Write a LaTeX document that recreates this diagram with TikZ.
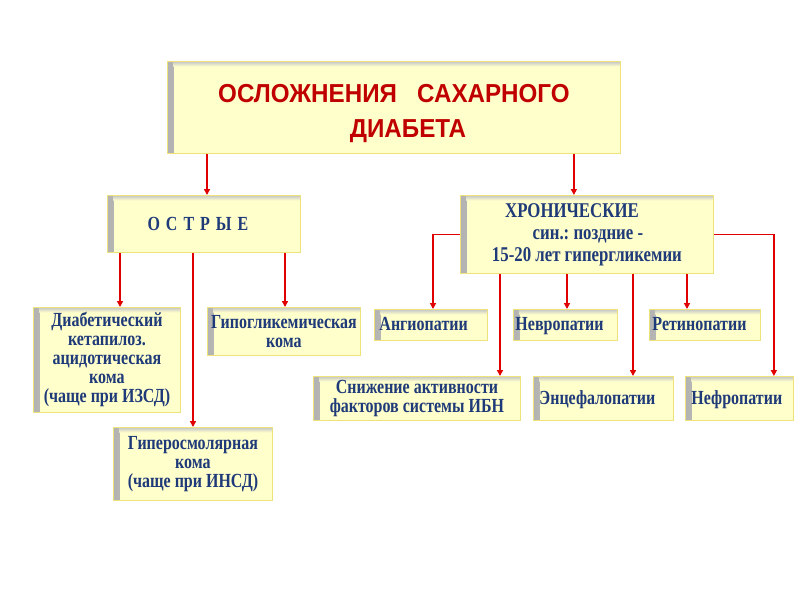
\documentclass[tikz,border=0pt]{standalone}
\usepackage{fontspec}
\setmainfont[FakeStretch=0.8]{Liberation Serif}
\newfontfamily\titlefont[FakeStretch=0.93]{Liberation Sans}
\usetikzlibrary{arrows.meta,calc}
\definecolor{boxfill}{HTML}{FFFFCC}
\definecolor{boxline}{HTML}{EEE27A}
\definecolor{txtblue}{HTML}{1F3A78}
\definecolor{titlered}{HTML}{C00000}
\definecolor{arrred}{HTML}{E00000}
\tikzset{
  ybox/.style={draw=boxline, line width=0.9pt, fill=boxfill, inner sep=3pt,
    text=txtblue, font=\bfseries\fontsize{20}{19}\selectfont, anchor=north west,
    path picture={
      \shade[left color=black!30, right color=boxfill]
        (path picture bounding box.north west) rectangle ([xshift=6pt]path picture bounding box.south west);
      \shade[top color=black!22, bottom color=boxfill]
        ([xshift=6pt]path picture bounding box.north west) rectangle ([yshift=-5pt]path picture bounding box.north east);
    }},
  oneline/.style={text height=16pt, text depth=4pt},
  conn/.style={draw=arrred, line width=1.8pt, -{Triangle[length=6pt,width=6pt]}},
}
\begin{document}
\frenchspacing
\begin{tikzpicture}[x=1pt,y=-1pt]
\useasboundingbox (0,0) rectangle (800,600);
\fill[white] (0,0) rectangle (800,600);
% boxes
\node[ybox, minimum width=453pt, minimum height=92pt, align=center, text=titlered,
  font=\titlefont\bfseries\fontsize{26}{35}\selectfont] (title) at (167,61)
  {\rule{0pt}{30pt}ОСЛОЖНЕНИЯ\ \ \ САХАРНОГО\\\hspace*{28pt}ДИАБЕТА};
\node[ybox, minimum width=193pt, minimum height=57pt, align=center] (ostr) at (107,195)
  {\hspace*{-12pt}О\hspace{2pt} С\hspace{2pt} Т\hspace{2pt} Р\hspace{2pt} Ы\hspace{2pt} Е};
\node[ybox, minimum width=253pt, minimum height=78pt, align=center,
  font=\bfseries\fontsize{21}{22}\selectfont] (chron) at (460,195)
  {\hspace*{-30pt}ХРОНИЧЕСКИЕ\\\hspace*{2pt}син.: поздние -\\15-20 лет гипергликемии};
\node[ybox, minimum width=147pt, minimum height=105pt, align=center] (diab) at (33,307)
  {Диабетический\\кетапилоз.\\ацидотическая\\кома\\(чаще при ИЗСД)};
\node[ybox, minimum width=153pt, minimum height=48pt, align=center] (hypo) at (207,307)
  {Гипогликемическая\\кома};
\node[ybox, minimum width=159pt, minimum height=73pt, align=center] (hyper) at (113,427)
  {Гиперосмолярная\\кома\\(чаще при ИНСД)};
\node[ybox, oneline, minimum width=113pt, minimum height=31pt, text width=103pt, align=left] (ang) at (374,309)
  {Ангиопатии};
\node[ybox, oneline, minimum width=104pt, minimum height=31pt, text width=100pt, inner xsep=1pt, align=left] (nev) at (513,309)
  {Невропатии};
\node[ybox, oneline, minimum width=111pt, minimum height=31pt, text width=105pt, inner xsep=2pt, align=left] (ret) at (649,309)
  {Ретинопатии};
\node[ybox, minimum width=207pt, minimum height=44pt, align=center] (sniz) at (313,376)
  {Снижение активности\\факторов системы ИБН};
\node[ybox, oneline, minimum width=140pt, minimum height=44pt, text width=132pt, inner xsep=4pt, align=left] (enc) at (533,376)
  {\hspace*{2pt}Энцефалопатии};
\node[ybox, oneline, minimum width=108pt, minimum height=44pt, text width=100pt, inner xsep=4pt, align=left] (nef) at (685,376)
  {\hspace*{2pt}Нефропатии};
% connectors from title
\draw[conn] ([xshift=40pt]title.south west) -- ([xshift=40pt]title.south west |- ostr.north);
\draw[conn] ([xshift=-47pt]title.south east) -- ([xshift=-47pt]title.south east |- chron.north);
% acute
\draw[conn] ([xshift=13pt]ostr.south west) -- ([xshift=13pt]ostr.south west |- diab.north);
\draw[conn] ([xshift=86pt]ostr.south west) -- ([xshift=86pt]ostr.south west |- hyper.north);
\draw[conn] ([xshift=178pt]ostr.south west) -- ([xshift=178pt]ostr.south west |- hypo.north);
% chronic
\draw[conn] (chron.west) -| ([xshift=59pt]ang.north west);
\draw[conn] (chron.east) -| ([xshift=-20pt]nef.north east);
\draw[conn] ([xshift=40pt]chron.south west) -- ([xshift=40pt]chron.south west |- sniz.north);
\draw[conn] ([xshift=107pt]chron.south west) -- ([xshift=107pt]chron.south west |- nev.north);
\draw[conn] ([xshift=173pt]chron.south west) -- ([xshift=173pt]chron.south west |- enc.north);
\draw[conn] ([xshift=227pt]chron.south west) -- ([xshift=227pt]chron.south west |- ret.north);
\end{tikzpicture}
\end{document}
